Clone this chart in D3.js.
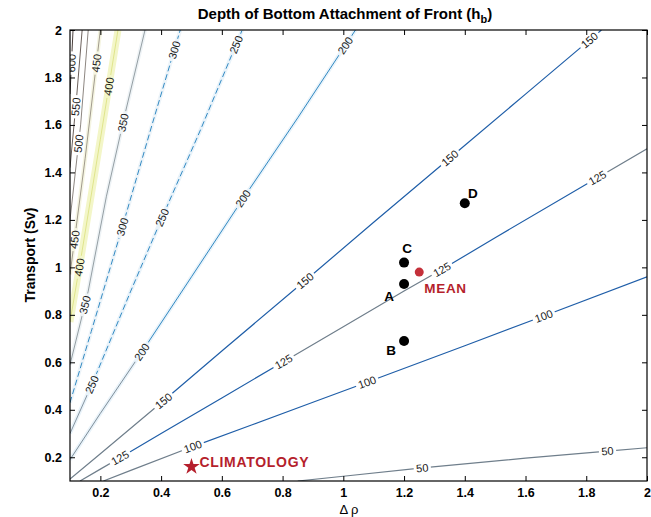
<!DOCTYPE html>
<html>
<head>
<meta charset="utf-8">
<script src="https://cdn.jsdelivr.net/npm/d3@7"></script>
<style>
  body { margin: 0; background: #fff; }
</style>
</head>
<body>
<svg id="chart" width="651" height="517"></svg>
<script>
// Axis ticks
const xTicks = [0.2, 0.4, 0.6, 0.8, 1, 1.2, 1.4, 1.6, 1.8, 2];
const xTickLabels = ["0.2", "0.4", "0.6", "0.8", "1", "1.2", "1.4", "1.6", "1.8", "2"];
const yTicks = [0.2, 0.4, 0.6, 0.8, 1, 1.2, 1.4, 1.6, 1.8, 2];
const yTickLabels = ["0.2", "0.4", "0.6", "0.8", "1", "1.2", "1.4", "1.6", "1.8", "2"];

// Contour levels of h_b (m)
const levels = [50, 100, 125, 150, 200, 250, 300, 350, 400, 450, 500, 550, 600];

// Contour lines as [Δρ, transport] vertices
const h50  = [[0.85, 0.1], [1.0, 0.12], [1.26, 0.155], [1.6, 0.196], [1.87, 0.226], [2.0, 0.24]];
const h100 = [[0.21, 0.1], [0.3, 0.145], [0.5, 0.243], [0.7, 0.337], [0.9, 0.432], [1.08, 0.517], [1.4, 0.67], [1.66, 0.795], [2.0, 0.96]];
const h125 = [[0.133, 0.1], [0.2, 0.15], [0.265, 0.198], [0.4, 0.3], [0.6, 0.45], [0.8, 0.6], [1.0, 0.75], [1.2, 0.9], [1.33, 0.995], [1.5, 1.125], [1.84, 1.38], [2.0, 1.5]];
const h150 = [[0.1, 0.108], [0.2, 0.215], [0.41, 0.44], [0.6, 0.648], [0.88, 0.95], [1.1, 1.19], [1.35, 1.46], [1.6, 1.73], [1.85, 2.0]];
const h200 = [[0.1, 0.19], [0.2, 0.385], [0.34, 0.65], [0.5, 0.96], [0.67, 1.29], [0.85, 1.63], [1.04, 2.0]];
const h250 = [[0.1, 0.3], [0.18, 0.53], [0.3, 0.9], [0.4, 1.2], [0.53, 1.58], [0.667, 2.0]];
const h300 = [[0.1, 0.43], [0.17, 0.73], [0.27, 1.16], [0.37, 1.6], [0.463, 2.0]];
const h350 = [[0.1, 0.59], [0.16, 0.9], [0.22, 1.3], [0.28, 1.64], [0.347, 2.0]];
const h400 = [[0.1, 0.77], [0.14, 1.07], [0.2, 1.54], [0.258, 2.0]];
const h450 = [[0.1, 0.97], [0.15, 1.46], [0.2, 2.0]];
const h500 = [[0.1, 1.2], [0.135, 1.6], [0.16, 2.0]];
const h550 = [[0.1, 1.42], [0.122, 1.72], [0.14, 2.0]];
const h600 = [[0.1, 1.73], [0.11, 2.0]];

// Where each contour carries its inline value label
const lab50  = [[1.26, 0.155], [1.87, 0.226]];
const lab100 = [[0.505, 0.243], [1.078, 0.517], [1.66, 0.795]];
const lab125 = [[0.265, 0.197], [0.80, 0.61], [1.325, 0.99], [1.84, 1.37]];
const lab150 = [[0.413, 0.43], [0.88, 0.934], [1.348, 1.465], [1.81, 1.958]];
const lab200 = [[0.337, 0.643], [0.67, 1.29], [1.0, 1.94]];
const lab250 = [[0.176, 0.504], [0.403, 1.21], [0.65, 1.937]];
const lab300 = [[0.275, 1.17], [0.446, 1.915]];
const lab350 = [[0.156, 0.84], [0.275, 1.61]];
const lab400 = [[0.133, 1.0], [0.238, 1.76]];
const lab450 = [[0.126, 1.115], [0.192, 1.86]];
const lab500 = [[0.14, 1.52]];
const lab550 = [[0.133, 1.675]];
const lab600 = [[0.112, 1.86]];

// Observation cases
const caseNames = ["A", "B", "C", "D"];
const caseDrho = [1.2, 1.2, 1.2, 1.4];
const caseTransport = [0.93, 0.69, 1.02, 1.27];
const meanDrho = 1.25, meanTransport = 0.98;
const climDrho = 0.5, climTransport = 0.16;

const lines = [h50, h100, h125, h150, h200, h250, h300, h350, h400, h450, h500, h550, h600];
const labs = [lab50, lab100, lab125, lab150, lab200, lab250, lab300, lab350, lab400, lab450, lab500, lab550, lab600];

// ---- styling ----
const FONT = "'Liberation Sans', Arial, Helvetica, sans-serif";
const GRAY = "#6f7e8b", BLUE = "#1f5ea8", SKY = "#3189c2";
const segStyle = {
  50:  [GRAY],
  100: [GRAY, BLUE],
  125: [GRAY, BLUE, GRAY, BLUE, GRAY],
  150: [GRAY, BLUE],
  200: ["#7f8e99", SKY],
  250: ["#8795a0", SKY],
  300: [SKY],
  350: ["#949ea3"],
  400: ["#dfe48c"],
  450: ["#a09a8c"],
  500: ["#8d8681"],
  550: ["#6c615c"],
  600: ["#4a3f3c"]
};
const dashed = { 250: [false, true], 300: [true] };
const halo = { 200: "#e9f3fa", 250: "#e9f3fa", 300: "#edf4f9", 350: "#eef3f6", 400: "#f3f6c8", 450: "#f5f5e2" };

const x = d3.scaleLinear().domain([0.1, 2]).range([70, 647]);
const y = d3.scaleLinear().domain([0.1, 2]).range([481, 30]);

const svg = d3.select("#chart");
const defs = svg.append("defs");
defs.append("clipPath").attr("id", "plotClip")
  .append("rect").attr("x", 70).attr("y", 30).attr("width", 577).attr("height", 451);
const mask = defs.append("mask").attr("id", "labelGaps").attr("maskUnits", "userSpaceOnUse")
  .attr("x", 0).attr("y", 0).attr("width", 651).attr("height", 517);
mask.append("rect").attr("width", 651).attr("height", 517).attr("fill", "#fff");

// nearest point on a pixel polyline
function snap(pts, tx, ty) {
  let best = null;
  for (let i = 0; i < pts.length - 1; i++) {
    const [ax, ay] = pts[i], [bx, by] = pts[i + 1];
    const dx = bx - ax, dy = by - ay, L2 = dx * dx + dy * dy;
    let t = ((tx - ax) * dx + (ty - ay) * dy) / L2;
    t = Math.max(0, Math.min(1, t));
    const px = ax + t * dx, py = ay + t * dy;
    const d = (px - tx) ** 2 + (py - ty) ** 2;
    if (!best || d < best.d) {
      let ang = Math.atan2(dy, dx) * 180 / Math.PI;
      if (ang > 90) ang -= 180;
      if (ang < -90) ang += 180;
      best = { d, i, t, p: [px, py], ang };
    }
  }
  return best;
}

function split(pts, cuts) {
  const out = [];
  let cur = [pts[0]], k = 0;
  cuts.forEach(c => {
    for (let j = k + 1; j <= c.i; j++) cur.push(pts[j]);
    k = Math.max(k, c.i);
    cur.push(c.p);
    out.push(cur);
    cur = [c.p];
  });
  for (let j = k + 1; j < pts.length; j++) cur.push(pts[j]);
  out.push(cur);
  return out;
}

const lineGen = d3.line();
const plot = svg.append("g").attr("clip-path", "url(#plotClip)");
const haloG = plot.append("g");
const lineG = plot.append("g").attr("mask", "url(#labelGaps)");
const labelG = plot.append("g");

levels.forEach((lev, li) => {
  const pts = lines[li].map(d => [x(d[0]), y(d[1])]);
  const cuts = labs[li].map(d => snap(pts, x(d[0]), y(d[1])))
    .sort((a, b) => (a.i + a.t) - (b.i + b.t));

  if (halo[lev]) {
    haloG.append("path").attr("d", lineGen(pts))
      .attr("fill", "none").attr("stroke", halo[lev])
      .attr("stroke-width", lev === 400 ? 7 : 4);
  }

  const pieces = split(pts, cuts);
  const cols = segStyle[lev];
  const dsh = dashed[lev] || [false];
  pieces.forEach((pc, k) => {
    lineG.append("path").attr("d", lineGen(pc))
      .attr("fill", "none")
      .attr("stroke", cols[Math.min(k, cols.length - 1)])
      .attr("stroke-width", lev >= 200 ? 1 : 1.2)
      .attr("stroke-dasharray", dsh[Math.min(k, dsh.length - 1)] ? "6,3" : null);
  });

  cuts.forEach(c => {
    const t = labelG.append("text")
      .attr("transform", `translate(${c.p[0]},${c.p[1]}) rotate(${c.ang})`)
      .attr("text-anchor", "middle").attr("dy", "0.36em")
      .attr("font-family", FONT).attr("font-size", 11).attr("fill", "#1a1a1a")
      .text(lev);
    const w = t.node().getComputedTextLength() + 5;
    mask.append("rect")
      .attr("x", -w / 2).attr("y", -5).attr("width", w).attr("height", 10)
      .attr("fill", "#000")
      .attr("transform", `translate(${c.p[0]},${c.p[1]}) rotate(${c.ang})`);
  });
});

// ---- axes (inward ticks on all four sides) ----
function styleAxis(g) {
  g.select(".domain").remove();
  g.selectAll("line").attr("stroke", "#000");
  g.selectAll("text").attr("font-family", FONT).attr("font-size", 12.5)
    .attr("font-weight", "bold").attr("fill", "#000");
}
svg.append("g").attr("transform", "translate(0,481)")
  .call(d3.axisBottom(x).tickValues(xTicks).tickSizeInner(-5).tickPadding(7)
    .tickFormat((d, i) => xTickLabels[i]))
  .call(styleAxis);
svg.append("g").attr("transform", "translate(0,30)")
  .call(d3.axisTop(x).tickValues(xTicks).tickSizeInner(-5).tickFormat(""))
  .call(styleAxis);
svg.append("g").attr("transform", "translate(70,0)")
  .call(d3.axisLeft(y).tickValues(yTicks).tickSizeInner(-5).tickPadding(8)
    .tickFormat((d, i) => yTickLabels[i]))
  .call(styleAxis);
svg.append("g").attr("transform", "translate(647,0)")
  .call(d3.axisRight(y).tickValues(yTicks).tickSizeInner(-5).tickFormat(""))
  .call(styleAxis);
svg.append("rect").attr("x", 70).attr("y", 30).attr("width", 577).attr("height", 451)
  .attr("fill", "none").attr("stroke", "#000").attr("stroke-width", 1.2);

// ---- cases, mean and climatology ----
const caseOffset = { A: [-15, 17], B: [-13, 14], C: [3, -10], D: [8, -5] };
caseNames.forEach((n, i) => {
  const cx = x(caseDrho[i]), cy = y(caseTransport[i]);
  svg.append("circle").attr("cx", cx).attr("cy", cy).attr("r", 5).attr("fill", "#000");
  svg.append("text").attr("x", cx + caseOffset[n][0]).attr("y", cy + caseOffset[n][1])
    .attr("text-anchor", "middle").attr("font-family", FONT).attr("font-weight", "bold")
    .attr("font-size", 13.5).attr("fill", "#000").text(n);
});
const RED = "#b51f2c";
svg.append("circle").attr("cx", x(meanDrho)).attr("cy", y(meanTransport)).attr("r", 4.5).attr("fill", "#c4303a");
svg.append("text").attr("x", x(meanDrho) + 5).attr("y", y(meanTransport) + 21)
  .attr("font-family", FONT).attr("font-weight", "bold").attr("font-size", 13.5)
  .attr("letter-spacing", 0.7).attr("fill", RED).text("MEAN");
svg.append("path").attr("d", d3.symbol(d3.symbolStar).size(85)())
  .attr("transform", `translate(${x(climDrho)},${y(climTransport)})`).attr("fill", RED);
svg.append("text").attr("x", x(climDrho) + 8).attr("y", y(climTransport) + 0.5)
  .attr("font-family", FONT).attr("font-weight", "bold").attr("font-size", 14)
  .attr("letter-spacing", 0.7).attr("fill", RED).text("CLIMATOLOGY");

// ---- titles ----
const title = svg.append("text").attr("x", 345).attr("y", 19).attr("text-anchor", "middle")
  .attr("font-family", FONT).attr("font-weight", "bold").attr("font-size", 15).attr("fill", "#000");
title.append("tspan").text("Depth of Bottom Attachment of Front (h");
title.append("tspan").attr("font-size", 11).attr("dy", 4).text("b");
title.append("tspan").attr("dy", -4).text(")");

svg.append("text").attr("x", 349).attr("y", 514).attr("text-anchor", "middle")
  .attr("font-family", FONT).attr("font-size", 13).attr("fill", "#000").text("Δ ρ");
svg.append("text").attr("transform", "translate(35,255) rotate(-90)").attr("text-anchor", "middle")
  .attr("font-family", FONT).attr("font-weight", "bold").attr("font-size", 14).attr("fill", "#000")
  .text("Transport (Sv)");
</script>
</body>
</html>
